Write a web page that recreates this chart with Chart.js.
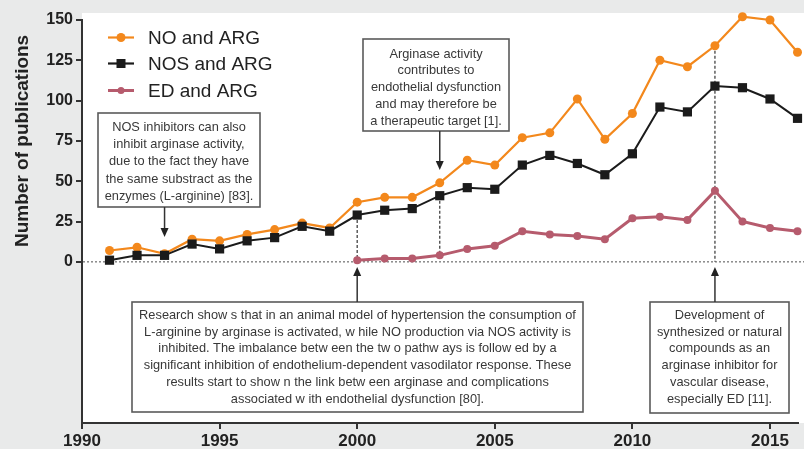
<!DOCTYPE html>
<html>
<head>
<meta charset="utf-8">
<script src="https://cdn.jsdelivr.net/npm/chart.js@4/dist/chart.umd.min.js"></script>
<style>
html,body{margin:0;padding:0;background:#e9eaea;}
#wrap{width:804px;height:449px;position:relative;}
</style>
</head>
<body>
<div id="wrap"><canvas id="c" width="804" height="449"></canvas></div>
<script>
// ---- data ----
const years = [1991,1992,1993,1994,1995,1996,1997,1998,1999,2000,2001,2002,2003,2004,2005,2006,2007,2008,2009,2010,2011,2012,2013,2014,2015,2016];
const noArg  = [7,9,5,14,13,17,20,24,21,37,40,40,49,63,60,77,80,101,76,92,125,121,134,152,150,130];
const nosArg = [1,4,4,11,8,13,15,22,19,29,32,33,41,46,45,60,66,61,54,67,96,93,109,108,101,89];
const edArg  = [null,null,null,null,null,null,null,null,null,1,2,2,4,8,10,19,17,16,14,27,28,26,44,25,21,19];
const seriesNames = ['NO and ARG','NOS and ARG','ED and ARG'];
const xTicks = [1990,1995,2000,2005,2010,2015];
const yTicks = [0,25,50,75,100,125,150];
const yTitle = 'Number of publications';

const notes = [
  {year:1993, dir:'down', lines:['NOS inhibitors can also','inhibit arginase activity,','due to the fact they have','the same substract as the','enzymes (L-arginine) [83].']},
  {year:2003, dir:'down', lines:['Arginase activity','contributes to','endothelial dysfunction','and may therefore be','a therapeutic target [1].']},
  {year:2000, dir:'up', lines:['Research show s that in an animal model of hypertension the consumption of','L-arginine by arginase is activated, w hile NO production via NOS activity is','inhibited. The imbalance betw een the tw o pathw ays is follow ed by a','significant inhibition of endothelium-dependent vasodilator response. These','results start to show n the link betw een arginase and complications','associated w ith endothelial dysfunction [80].']},
  {year:2013, dir:'up', lines:['Development of','synthesized or natural','compounds as an','arginase inhibitor for','vascular disease,','especially ED [11].']}
];

// ---- layout (pixels) ----
const boxes = [
  {l:98, t:113, r:260, b:207, first:127.5, step:17.2, tip:237},
  {l:363, t:39, r:509, b:131, first:54, step:16.8, tip:170},
  {l:132, t:302, r:583, b:412, first:315.5, step:16.7, tip:267},
  {l:650, t:302, r:789, b:413, first:315.5, step:16.7, tip:267}
];
const COLORS = ['#F3881C','#1b1b1b','#B65B6D'];
const FONT = '"Liberation Sans", Arial, Helvetica, sans-serif';

const toPts = vals => years.map((yr,i)=>({x:yr, y:vals[i]}));

function arrowHead(ctx, x, tipY, dir){
  const h = 9, w = 4;
  ctx.beginPath();
  ctx.moveTo(x, tipY);
  if (dir==='down'){ ctx.lineTo(x-w, tipY-h); ctx.lineTo(x+w, tipY-h); }
  else { ctx.lineTo(x-w, tipY+h); ctx.lineTo(x+w, tipY+h); }
  ctx.closePath(); ctx.fill();
}

const decor = {
  id:'decor',
  beforeDraw(chart){
    const ctx = chart.ctx;
    ctx.save();
    ctx.fillStyle = '#e9eaea';
    ctx.fillRect(0,0,chart.width,chart.height);
    ctx.fillStyle = '#ffffff';
    ctx.fillRect(82,13,chart.width-82,chart.chartArea.bottom-13);
    ctx.restore();
  },
  beforeDatasetsDraw(chart){
    const ctx = chart.ctx, xs = chart.scales.x, ys = chart.scales.y;
    const px = v=>xs.getPixelForValue(v), py = v=>ys.getPixelForValue(v);
    ctx.save();
    ctx.strokeStyle = '#8a8a8a'; ctx.lineWidth = 1.5; ctx.setLineDash([2,2]);
    ctx.beginPath(); ctx.moveTo(chart.chartArea.left+1, py(0)); ctx.lineTo(chart.width, py(0)); ctx.stroke();
    ctx.strokeStyle = '#444'; ctx.lineWidth = 1.3; ctx.setLineDash([3,2]);
    const gi = yr => years.indexOf(yr);
    const guides = [
      [2000, nosArg[gi(2000)], edArg[gi(2000)]],
      [2003, nosArg[gi(2003)], edArg[gi(2003)]],
      [2013, noArg[gi(2013)], 0]
    ];
    guides.forEach(([yr,a,b])=>{
      ctx.beginPath(); ctx.moveTo(px(yr), py(a)); ctx.lineTo(px(yr), py(b)); ctx.stroke();
    });
    ctx.restore();
  },
  afterDraw(chart){
    const ctx = chart.ctx, xs = chart.scales.x;
    const px = v=>xs.getPixelForValue(v);
    ctx.save();
    notes.forEach((n,i)=>{
      const b = boxes[i];
      const ax = px(n.year);
      ctx.fillStyle = '#ffffff';
      ctx.fillRect(b.l,b.t,b.r-b.l,b.b-b.t);
      ctx.strokeStyle = '#5a5a5a'; ctx.lineWidth = 1.6; ctx.setLineDash([]);
      ctx.strokeRect(b.l,b.t,b.r-b.l,b.b-b.t);
      ctx.fillStyle = '#383838';
      ctx.font = '12.8px ' + FONT;
      ctx.textAlign = 'center'; ctx.textBaseline = 'middle';
      const cx = (b.l+b.r)/2;
      n.lines.forEach((ln,k)=>ctx.fillText(ln, cx, b.first + k*b.step));
      ctx.strokeStyle = '#333'; ctx.fillStyle = '#222'; ctx.lineWidth = 1.5;
      ctx.beginPath();
      if (n.dir==='down'){ ctx.moveTo(ax,b.b); ctx.lineTo(ax,b.tip-6); }
      else { ctx.moveTo(ax,b.t); ctx.lineTo(ax,b.tip+6); }
      ctx.stroke();
      arrowHead(ctx, ax, b.tip, n.dir);
    });
    const rows = [37.5, 63.5, 90.5];
    seriesNames.forEach((name,i)=>{
      const y = rows[i];
      ctx.strokeStyle = COLORS[i]; ctx.lineWidth = i===2?3:2.2;
      ctx.beginPath(); ctx.moveTo(108,y); ctx.lineTo(134,y); ctx.stroke();
      ctx.fillStyle = COLORS[i];
      if (i===1){ ctx.fillRect(121-4.5,y-4.5,9,9); }
      else { ctx.beginPath(); ctx.arc(121,y,i===2?3.5:4.5,0,Math.PI*2); ctx.fill(); }
      ctx.fillStyle = '#222'; ctx.font = '19px ' + FONT;
      ctx.textAlign = 'left'; ctx.textBaseline = 'middle';
      ctx.fillText(name, 148, y+1);
    });
    const ys = chart.scales.y;
    const midY = (ys.getPixelForValue(0)+ys.getPixelForValue(150))/2;
    ctx.translate(23, midY); ctx.rotate(-Math.PI/2);
    ctx.fillStyle = '#222'; ctx.font = 'bold 19px ' + FONT;
    ctx.textAlign = 'center'; ctx.textBaseline = 'middle';
    ctx.fillText(yTitle, 0, 0);
    ctx.restore();
  }
};

new Chart(document.getElementById('c'), {
  type:'line',
  data:{
    datasets:[
      {label:seriesNames[0], data:toPts(noArg), borderColor:COLORS[0], backgroundColor:COLORS[0], borderWidth:2.2, pointRadius:4.5, pointStyle:'circle', pointBorderWidth:0, clip:false, order:3},
      {label:seriesNames[1], data:toPts(nosArg), borderColor:COLORS[1], backgroundColor:COLORS[1], borderWidth:2, pointRadius:6.5, pointStyle:'rect', pointBorderWidth:0, clip:false, order:2},
      {label:seriesNames[2], data:toPts(edArg), borderColor:COLORS[2], backgroundColor:COLORS[2], borderWidth:3, pointRadius:4, pointStyle:'circle', pointBorderWidth:0, clip:false, spanGaps:false, order:1}
    ]
  },
  options:{
    responsive:false, animation:false, devicePixelRatio:1,
    layout:{padding:{top:20,right:2,left:0,bottom:0}},
    plugins:{legend:{display:false}, tooltip:{enabled:false}},
    elements:{line:{tension:0}},
    scales:{
      x:{
        type:'linear', min:1990, max:2016,
        afterBuildTicks: s=>{ s.ticks = xTicks.map(v=>({value:v})); },
        afterFit: s=>{ s.height = 26; },
        grid:{display:true, drawOnChartArea:false, drawTicks:true, tickLength:6, color:'#333', lineWidth:2},
        border:{display:true, color:'#333', width:2},
        ticks:{color:'#222', font:{family:FONT, size:17, weight:'bold'}, padding:2, maxRotation:0, autoSkip:false, callback:v=>String(v)}
      },
      y:{
        type:'linear', min:-100, max:150,
        afterBuildTicks: s=>{ s.ticks = yTicks.map(v=>({value:v})); },
        afterFit: s=>{ s.width = 82; },
        grid:{display:true, drawOnChartArea:false, drawTicks:true, tickLength:6, color:'#333', lineWidth:2},
        border:{display:true, color:'#333', width:2},
        ticks:{color:'#222', font:{family:FONT, size:16, weight:'bold'}, padding:3, callback:v=>String(v)}
      }
    }
  },
  plugins:[decor]
});
</script>
</body>
</html>
